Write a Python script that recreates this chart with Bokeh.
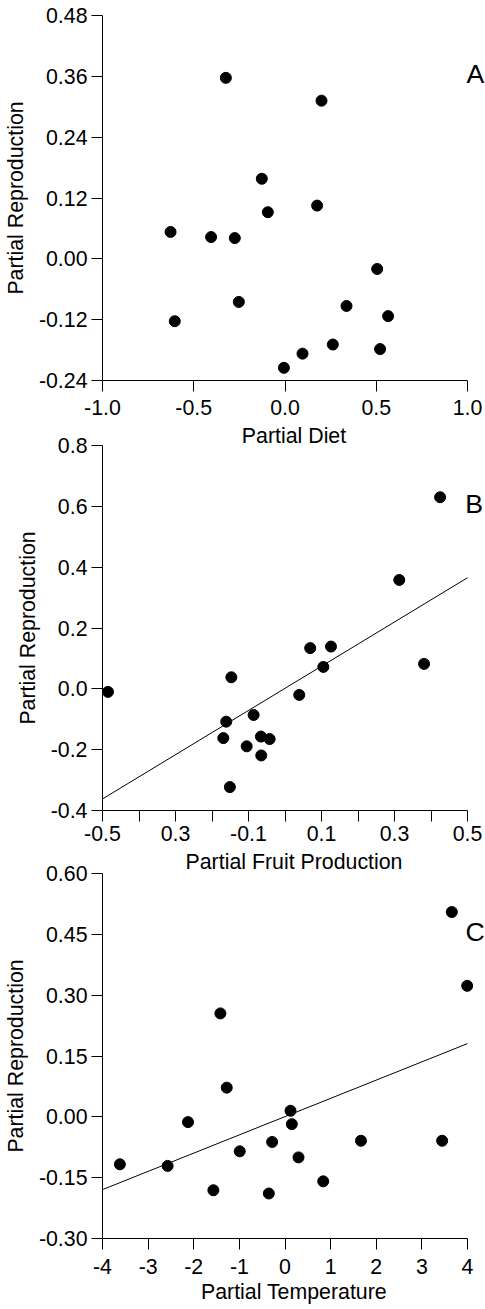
import numpy as np
from bokeh.plotting import figure
from bokeh.layouts import column
from bokeh.models import Range1d, FixedTicker, Label
from bokeh.embed import file_html
from bokeh.resources import INLINE

# ---------------- data ----------------
# Panel A: Partial Diet vs Partial Reproduction
diet_x = [-0.324, 0.200, -0.127, 0.176, -0.094, -0.627, -0.405, -0.275, 0.505,
          -0.253, 0.337, -0.604, 0.565, 0.262, 0.521, 0.096, -0.006]
diet_y = [0.357, 0.312, 0.158, 0.105, 0.092, 0.053, 0.043, 0.041, -0.020,
          -0.085, -0.093, -0.123, -0.113, -0.169, -0.178, -0.187, -0.215]

# Panel B: Partial Fruit Production vs Partial Reproduction
fruit_x = [0.425, 0.313, 0.069, 0.126, 0.105, 0.381, -0.147, -0.485, 0.039,
           -0.161, -0.086, -0.169, -0.066, -0.042, -0.105, -0.065, -0.151]
fruit_y = [0.630, 0.358, 0.134, 0.139, 0.072, 0.082, 0.038, -0.010, -0.020,
           -0.108, -0.086, -0.162, -0.157, -0.165, -0.189, -0.219, -0.323]

# Panel C: Partial Temperature vs Partial Reproduction
temp_x = [3.656, 3.993, -1.416, -1.277, 0.121, -2.126, 0.150, 1.665, 3.444,
          -0.282, -0.992, 0.296, -3.619, -2.573, 0.838, -1.570, -0.355]
temp_y = [0.505, 0.323, 0.255, 0.072, 0.015, -0.013, -0.018, -0.059, -0.059,
          -0.062, -0.085, -0.100, -0.117, -0.121, -0.159, -0.181, -0.189]

# axis ticks and labels
a_xticks = [-1.0, -0.5, 0.0, 0.5, 1.0]
a_xlabels = ["-1.0", "-0.5", "0.0", "0.5", "1.0"]
a_yticks = [-0.24, -0.12, 0.0, 0.12, 0.24, 0.36, 0.48]
a_ylabels = ["-0.24", "-0.12", "0.00", "0.12", "0.24", "0.36", "0.48"]

b_xticks = [-0.5, -0.4, -0.3, -0.2, -0.1, 0.0, 0.1, 0.2, 0.3, 0.4, 0.5]
b_xlabels = ["-0.5", "", "0.3", "", "-0.1", "", "0.1", "", "0.3", "", "0.5"]
b_yticks = [-0.4, -0.2, 0.0, 0.2, 0.4, 0.6, 0.8]
b_ylabels = ["-0.4", "-0.2", "0.0", "0.2", "0.4", "0.6", "0.8"]

c_xticks = [-4, -3, -2, -1, 0, 1, 2, 3, 4]
c_xlabels = ["-4", "-3", "-2", "-1", "0", "1", "2", "3", "4"]
c_yticks = [-0.30, -0.15, 0.0, 0.15, 0.30, 0.45, 0.60]
c_ylabels = ["-0.30", "-0.15", "0.00", "0.15", "0.30", "0.45", "0.60"]

FONT = "Liberation Sans"
TICK_SIZE = "16pt"
LABEL_SIZE = "16pt"
LETTER_SIZE = "20pt"

FIG_W = 485
LEFT = 102          # left border (px) up to the y axis
AXIS_W = 365        # pixel length of the drawn x axis
FRAME_W = FIG_W - LEFT   # frame reaches the right edge so the panel letter fits
FRAME_H = 365


def make_panel(xr, yr, xt, xl, yt, yl, xlabel, top, bottom,
               x_standoff, xlab_standoff, margin_top):
    x0, x1 = xr
    x_end = x0 + (x1 - x0) * FRAME_W / AXIS_W
    p = figure(width=FIG_W, height=top + FRAME_H + bottom,
               x_range=Range1d(x0, x_end), y_range=Range1d(*yr),
               output_backend="svg", toolbar_location=None,
               min_border_left=LEFT, min_border_right=0,
               min_border_top=top, min_border_bottom=bottom,
               margin=(margin_top, 0, 0, 0))
    p.border_fill_color = None
    p.background_fill_color = None
    p.outline_line_color = None
    p.xgrid.visible = False
    p.ygrid.visible = False

    p.xaxis.bounds = (x0, x1)
    p.xaxis.ticker = FixedTicker(ticks=xt)
    p.yaxis.ticker = FixedTicker(ticks=yt)
    p.xaxis.major_label_overrides = {float(t): s for t, s in zip(xt, xl)}
    p.yaxis.major_label_overrides = {float(t): s for t, s in zip(yt, yl)}

    for ax in (p.xaxis[0], p.yaxis[0]):
        ax.axis_line_color = "black"
        ax.axis_line_width = 1
        ax.major_tick_line_color = "black"
        ax.major_tick_out = 11
        ax.major_tick_in = 0
        ax.minor_tick_line_color = None
        ax.major_label_text_font = FONT
        ax.major_label_text_font_size = TICK_SIZE
        ax.major_label_text_color = "black"
        ax.axis_label_text_font = FONT
        ax.axis_label_text_font_size = LABEL_SIZE
        ax.axis_label_text_font_style = "normal"
        ax.axis_label_text_color = "black"

    p.xaxis.major_label_standoff = x_standoff
    p.xaxis.axis_label_standoff = xlab_standoff
    p.yaxis.major_label_standoff = 4
    p.yaxis.axis_label_standoff = 8
    p.xaxis.axis_label = xlabel
    p.yaxis.axis_label = "Partial Reproduction"
    return p


def add_letter(p, text, x, y):
    p.add_layout(Label(x=x, y=y, text=text, text_font=FONT,
                       text_font_size=LETTER_SIZE, text_color="black",
                       text_align="left", text_baseline="alphabetic"))


# Panel A
pa = make_panel((-1.0, 1.0), (-0.24, 0.48), a_xticks, a_xlabels, a_yticks, a_ylabels,
                "Partial Diet", 15, 74, 8, 6, 0)
pa.scatter(diet_x, diet_y, size=11, marker="circle", color="black")
add_letter(pa, "A", 0.994, 0.364)

# Panel B
pb = make_panel((-0.5, 0.5), (-0.4, 0.8), b_xticks, b_xlabels, b_yticks, b_ylabels,
                "Partial Fruit Production", 12, 69, 4, 6, -21)
bx0, bx1 = b_xticks[0], b_xticks[-1]
b_slope, b_int = np.polyfit(fruit_x, fruit_y, 1)
pb.line([bx0, bx1], [b_int + b_slope * bx0, b_int + b_slope * bx1],
        line_color="black", line_width=1)
pb.scatter(fruit_x, fruit_y, size=11, marker="circle", color="black")
add_letter(pb, "B", 0.494, 0.608)

# Panel C
pc = make_panel((-4, 4), (-0.30, 0.60), c_xticks, c_xlabels, c_yticks, c_ylabels,
                "Partial Temperature", 12, 71, 9, 3, -18)
cx0, cx1 = c_xticks[0], c_xticks[-1]
c_slope, c_int = np.polyfit(temp_x, temp_y, 1)
pc.line([cx0, cx1], [c_int + c_slope * cx0, c_int + c_slope * cx1],
        line_color="black", line_width=1)
pc.scatter(temp_x, temp_y, size=11, marker="circle", color="black")
add_letter(pc, "C", 3.956, 0.456)

layout = column(pa, pb, pc, spacing=0)
open("out.html", "w").write(file_html(layout, INLINE))
